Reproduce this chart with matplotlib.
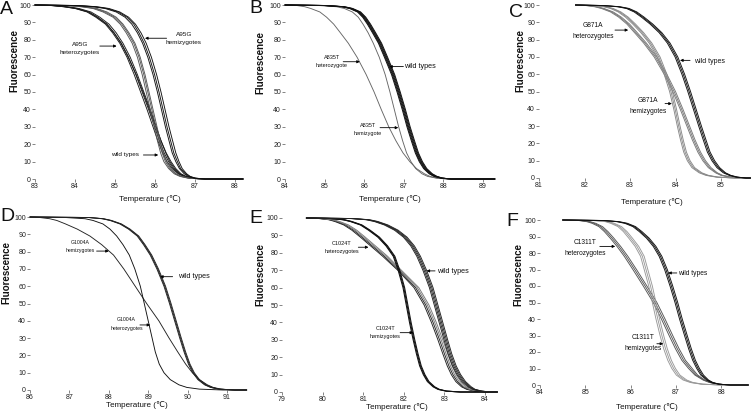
import matplotlib
matplotlib.use("Agg")
import matplotlib.pyplot as plt

plt.rcParams['font.family'] = ['Liberation Sans', 'DejaVu Sans']

W, H = 753, 416
fig = plt.figure(figsize=(W / 100, H / 100), dpi=100)

# Fluorescence levels at which each curve's temperature was read (last two: baseline to end)
F_LEVELS = [100, 99.7, 99, 98, 96, 93, 89, 84, 78, 70, 60, 50, 40, 30, 22, 15, 10, 6, 3, 1.5, 0.5, 0, 0]

# ---------------- Panel A (A95G) ----------------
A_het = [
    [83.0, 83.4, 83.72, 84.0, 84.3, 84.52, 84.76, 84.94, 85.12, 85.3, 85.48, 85.64, 85.8, 85.95, 86.07, 86.19, 86.3, 86.43, 86.58, 86.72, 86.88, 87.2, 88.2],
    [83.0, 83.45, 83.77, 84.05, 84.35, 84.57, 84.8, 84.98, 85.16, 85.34, 85.52, 85.68, 85.84, 85.99, 86.11, 86.23, 86.34, 86.46, 86.6, 86.74, 86.9, 87.2, 88.2],
    [83.0, 83.5, 83.82, 84.1, 84.4, 84.62, 84.85, 85.03, 85.2, 85.38, 85.56, 85.72, 85.88, 86.03, 86.15, 86.27, 86.37, 86.49, 86.62, 86.76, 86.92, 87.2, 88.2],
    [83.0, 83.4, 83.72, 84.02, 84.33, 84.55, 84.79, 84.97, 85.15, 85.33, 85.53, 85.7, 85.86, 86.02, 86.15, 86.28, 86.4, 86.52, 86.65, 86.78, 86.93, 87.2, 88.2],
]
A_wt = [
    [83.0, 83.75, 84.15, 84.45, 84.7, 84.95, 85.13, 85.28, 85.43, 85.56, 85.68, 85.78, 85.88, 85.98, 86.06, 86.14, 86.22, 86.34, 86.48, 86.62, 86.82, 87.15, 88.2],
    [83.0, 83.8, 84.2, 84.5, 84.75, 84.99, 85.17, 85.32, 85.47, 85.6, 85.72, 85.82, 85.92, 86.02, 86.1, 86.18, 86.26, 86.37, 86.51, 86.65, 86.84, 87.15, 88.2],
    [83.0, 83.85, 84.25, 84.55, 84.8, 85.03, 85.2, 85.35, 85.5, 85.63, 85.75, 85.85, 85.95, 86.05, 86.13, 86.21, 86.29, 86.4, 86.53, 86.67, 86.86, 87.15, 88.2],
]
A_hemi = [
    [83.0, 84.0, 84.45, 84.75, 85.03, 85.25, 85.42, 85.56, 85.69, 85.82, 85.95, 86.06, 86.16, 86.26, 86.35, 86.43, 86.52, 86.61, 86.73, 86.83, 86.97, 87.25, 88.2],
    [83.0, 84.05, 84.5, 84.8, 85.08, 85.3, 85.47, 85.6, 85.73, 85.86, 85.99, 86.1, 86.2, 86.3, 86.39, 86.47, 86.56, 86.64, 86.76, 86.86, 86.99, 87.25, 88.2],
    [83.0, 84.1, 84.55, 84.85, 85.12, 85.34, 85.51, 85.65, 85.78, 85.91, 86.04, 86.15, 86.25, 86.35, 86.44, 86.52, 86.6, 86.68, 86.79, 86.88, 87.01, 87.25, 88.2],
]

# ---------------- Panel B (A835T) ----------------
B_wt = [
    [84.0, 85.0, 85.45, 85.65, 85.85, 85.98, 86.1, 86.23, 86.38, 86.53, 86.71, 86.85, 86.98, 87.1, 87.21, 87.31, 87.41, 87.52, 87.66, 87.78, 87.95, 88.2, 89.3],
    [84.0, 85.02, 85.47, 85.67, 85.87, 86.0, 86.12, 86.25, 86.4, 86.55, 86.73, 86.87, 87.0, 87.12, 87.23, 87.33, 87.43, 87.54, 87.68, 87.8, 87.96, 88.2, 89.3],
    [84.0, 85.04, 85.49, 85.69, 85.89, 86.02, 86.14, 86.27, 86.42, 86.57, 86.75, 86.89, 87.02, 87.14, 87.25, 87.35, 87.45, 87.56, 87.7, 87.82, 87.97, 88.2, 89.3],
    [84.0, 84.98, 85.43, 85.63, 85.83, 85.96, 86.08, 86.21, 86.36, 86.51, 86.69, 86.83, 86.96, 87.08, 87.19, 87.29, 87.39, 87.5, 87.64, 87.76, 87.94, 88.2, 89.3],
    [84.0, 85.06, 85.51, 85.71, 85.91, 86.04, 86.16, 86.29, 86.44, 86.59, 86.77, 86.91, 87.04, 87.16, 87.27, 87.37, 87.47, 87.58, 87.72, 87.84, 87.98, 88.2, 89.3],
]
B_hemi = [
    [84.0, 84.85, 85.3, 85.5, 85.7, 85.85, 85.97, 86.1, 86.23, 86.38, 86.53, 86.65, 86.76, 86.87, 86.97, 87.07, 87.18, 87.3, 87.46, 87.6, 87.82, 88.1, 89.3],
]
B_het = [
    [84.0, 84.3, 84.5, 84.65, 84.88, 85.05, 85.23, 85.4, 85.6, 85.82, 86.05, 86.25, 86.43, 86.62, 86.8, 86.98, 87.15, 87.32, 87.52, 87.66, 87.85, 88.1, 89.3],
]

# ---------------- Panel C (G871A) ----------------
C_wt = [
    [81.8, 82.4, 82.75, 82.95, 83.12, 83.28, 83.47, 83.67, 83.85, 84.02, 84.17, 84.3, 84.42, 84.54, 84.64, 84.73, 84.83, 84.94, 85.08, 85.2, 85.35, 85.55, 85.65],
    [81.8, 82.43, 82.78, 82.98, 83.15, 83.31, 83.5, 83.7, 83.88, 84.05, 84.2, 84.33, 84.45, 84.57, 84.67, 84.76, 84.86, 84.97, 85.1, 85.22, 85.37, 85.55, 85.65],
    [81.8, 82.37, 82.72, 82.92, 83.09, 83.25, 83.44, 83.64, 83.82, 83.99, 84.14, 84.27, 84.39, 84.51, 84.61, 84.7, 84.8, 84.91, 85.05, 85.18, 85.33, 85.55, 85.65],
]
C_het = [
    [81.8, 82.05, 82.25, 82.4, 82.6, 82.78, 82.96, 83.13, 83.33, 83.56, 83.78, 83.97, 84.13, 84.28, 84.4, 84.52, 84.63, 84.75, 84.9, 85.02, 85.22, 85.5, 85.65],
    [81.8, 82.08, 82.28, 82.43, 82.63, 82.81, 82.99, 83.16, 83.36, 83.59, 83.81, 84.0, 84.16, 84.31, 84.43, 84.55, 84.66, 84.78, 84.92, 85.04, 85.24, 85.5, 85.65],
    [81.8, 82.02, 82.22, 82.37, 82.57, 82.75, 82.93, 83.1, 83.3, 83.53, 83.75, 83.94, 84.1, 84.25, 84.37, 84.49, 84.6, 84.72, 84.88, 85.0, 85.2, 85.5, 85.65],
]
C_hemi = [
    [81.8, 82.2, 82.45, 82.6, 82.77, 82.93, 83.09, 83.27, 83.45, 83.63, 83.78, 83.9, 83.99, 84.07, 84.14, 84.21, 84.29, 84.39, 84.55, 84.7, 84.92, 85.3, 85.65],
    [81.8, 82.23, 82.48, 82.63, 82.8, 82.96, 83.12, 83.3, 83.48, 83.66, 83.81, 83.93, 84.02, 84.1, 84.17, 84.24, 84.32, 84.42, 84.58, 84.73, 84.94, 85.3, 85.65],
    [81.8, 82.17, 82.42, 82.57, 82.74, 82.9, 83.06, 83.24, 83.42, 83.6, 83.75, 83.87, 83.96, 84.04, 84.11, 84.18, 84.26, 84.36, 84.52, 84.67, 84.9, 85.3, 85.65],
]

# ---------------- Panel D (G1004A) ----------------
D_wt = [
    [86.0, 87.5, 87.85, 88.05, 88.3, 88.52, 88.74, 88.9, 89.07, 89.24, 89.42, 89.56, 89.69, 89.82, 89.93, 90.04, 90.15, 90.28, 90.45, 90.6, 90.8, 91.2, 91.5],
    [86.0, 87.52, 87.87, 88.07, 88.32, 88.54, 88.76, 88.92, 89.09, 89.26, 89.44, 89.58, 89.71, 89.84, 89.95, 90.06, 90.17, 90.3, 90.47, 90.62, 90.81, 91.2, 91.5],
    [86.0, 87.48, 87.83, 88.03, 88.28, 88.5, 88.72, 88.88, 89.05, 89.22, 89.4, 89.54, 89.67, 89.8, 89.91, 90.02, 90.13, 90.26, 90.43, 90.58, 90.79, 91.2, 91.5],
]
D_hemi = [
    [86.0, 86.25, 86.5, 86.68, 86.9, 87.2, 87.52, 87.82, 88.12, 88.38, 88.67, 88.96, 89.27, 89.53, 89.75, 89.95, 90.12, 90.3, 90.5, 90.65, 90.85, 91.2, 91.5],
]
D_het = [
    [86.0, 86.9, 87.4, 87.6, 87.85, 88.03, 88.2, 88.36, 88.52, 88.66, 88.8, 88.9, 89.0, 89.1, 89.18, 89.28, 89.4, 89.56, 89.78, 89.98, 90.3, 90.9, 91.5],
]

# ---------------- Panel E (C1024T) ----------------
E_wt = [
    [79.6, 80.7, 81.1, 81.3, 81.55, 81.8, 82.02, 82.2, 82.35, 82.5, 82.66, 82.78, 82.9, 83.02, 83.12, 83.23, 83.34, 83.46, 83.6, 83.72, 83.9, 84.15, 84.3],
    [79.6, 80.73, 81.13, 81.33, 81.58, 81.83, 82.05, 82.23, 82.38, 82.53, 82.69, 82.81, 82.93, 83.05, 83.15, 83.26, 83.37, 83.49, 83.63, 83.74, 83.92, 84.15, 84.3],
    [79.6, 80.76, 81.16, 81.36, 81.61, 81.86, 82.08, 82.26, 82.41, 82.56, 82.72, 82.84, 82.96, 83.08, 83.18, 83.29, 83.4, 83.52, 83.66, 83.76, 83.93, 84.15, 84.3],
    [79.6, 80.67, 81.07, 81.27, 81.52, 81.77, 81.99, 82.17, 82.32, 82.47, 82.63, 82.75, 82.87, 82.99, 83.09, 83.2, 83.31, 83.43, 83.57, 83.7, 83.88, 84.15, 84.3],
]
E_het = [
    [79.6, 79.9, 80.15, 80.3, 80.52, 80.72, 80.93, 81.18, 81.48, 81.85, 82.25, 82.5, 82.68, 82.84, 82.96, 83.07, 83.17, 83.28, 83.42, 83.55, 83.75, 84.05, 84.3],
    [79.6, 79.93, 80.18, 80.34, 80.56, 80.76, 80.97, 81.22, 81.52, 81.88, 82.29, 82.54, 82.72, 82.88, 83.0, 83.11, 83.21, 83.32, 83.45, 83.58, 83.77, 84.05, 84.3],
    [79.6, 79.96, 80.22, 80.38, 80.6, 80.8, 81.01, 81.26, 81.56, 81.91, 82.33, 82.58, 82.76, 82.92, 83.04, 83.15, 83.25, 83.36, 83.48, 83.61, 83.79, 84.05, 84.3],
    [79.6, 80.0, 80.26, 80.42, 80.64, 80.84, 81.05, 81.3, 81.6, 81.94, 82.37, 82.62, 82.8, 82.96, 83.08, 83.19, 83.29, 83.4, 83.52, 83.64, 83.81, 84.05, 84.3],
]
E_hemi = [
    [79.6, 80.2, 80.52, 80.7, 80.95, 81.15, 81.38, 81.58, 81.76, 81.88, 82.0, 82.08, 82.16, 82.25, 82.33, 82.41, 82.5, 82.6, 82.74, 82.86, 83.05, 83.4, 84.3],
    [79.6, 80.22, 80.54, 80.72, 80.97, 81.17, 81.4, 81.6, 81.78, 81.9, 82.02, 82.1, 82.18, 82.27, 82.35, 82.43, 82.52, 82.62, 82.76, 82.88, 83.06, 83.4, 84.3],
    [79.6, 80.18, 80.5, 80.68, 80.93, 81.13, 81.36, 81.56, 81.74, 81.86, 81.98, 82.06, 82.14, 82.23, 82.31, 82.39, 82.48, 82.58, 82.72, 82.84, 83.04, 83.4, 84.3],
]

# ---------------- Panel F (C1311T) ----------------
F_wt = [
    [84.5, 85.4, 85.72, 85.9, 86.08, 86.22, 86.38, 86.53, 86.66, 86.78, 86.9, 87.01, 87.11, 87.22, 87.31, 87.4, 87.49, 87.58, 87.7, 87.8, 87.95, 88.2, 88.6],
    [84.5, 85.43, 85.75, 85.93, 86.11, 86.25, 86.41, 86.56, 86.69, 86.81, 86.93, 87.04, 87.14, 87.25, 87.34, 87.43, 87.52, 87.61, 87.72, 87.82, 87.96, 88.2, 88.6],
    [84.5, 85.37, 85.69, 85.87, 86.05, 86.19, 86.35, 86.5, 86.63, 86.75, 86.87, 86.98, 87.08, 87.19, 87.28, 87.37, 87.46, 87.55, 87.68, 87.78, 87.94, 88.2, 88.6],
]
F_het = [
    [84.5, 84.85, 85.03, 85.15, 85.3, 85.42, 85.55, 85.7, 85.86, 86.05, 86.28, 86.5, 86.68, 86.85, 86.99, 87.13, 87.28, 87.42, 87.6, 87.74, 87.93, 88.2, 88.6],
    [84.5, 84.88, 85.07, 85.19, 85.34, 85.46, 85.59, 85.74, 85.9, 86.09, 86.32, 86.54, 86.72, 86.89, 87.03, 87.17, 87.32, 87.45, 87.62, 87.76, 87.94, 88.2, 88.6],
    [84.5, 84.91, 85.11, 85.23, 85.38, 85.5, 85.63, 85.78, 85.94, 86.13, 86.36, 86.58, 86.76, 86.93, 87.07, 87.21, 87.36, 87.48, 87.64, 87.78, 87.95, 88.2, 88.6],
]
F_hemi = [
    [84.5, 85.2, 85.48, 85.6, 85.76, 85.88, 86.0, 86.14, 86.26, 86.34, 86.44, 86.52, 86.6, 86.69, 86.77, 86.86, 86.95, 87.05, 87.2, 87.35, 87.58, 88.0, 88.6],
    [84.5, 85.16, 85.44, 85.56, 85.72, 85.84, 85.96, 86.1, 86.22, 86.3, 86.4, 86.48, 86.56, 86.65, 86.73, 86.82, 86.91, 87.01, 87.16, 87.32, 87.56, 88.0, 88.6],
    [84.5, 85.24, 85.52, 85.64, 85.8, 85.92, 86.04, 86.18, 86.3, 86.38, 86.48, 86.56, 86.64, 86.73, 86.81, 86.9, 86.99, 87.09, 87.24, 87.38, 87.6, 88.0, 88.6],
]

Y_TICKS = [0, 10, 20, 30, 40, 50, 60, 70, 80, 90, 100]
XLABEL = "Temperature (\u2103)"
YLABEL = "Fluorescence"


def make_ax(x0_px, t0, scale, xmax, ytop_px, ybot_px, xticks):
    right = x0_px + (xmax - t0) * scale
    ax = fig.add_axes([x0_px / W, 1 - ybot_px / H, (right - x0_px) / W, (ybot_px - ytop_px) / H])
    ax.set_xlim(t0, xmax)
    ax.set_ylim(0, 100)
    for s in ax.spines.values():
        s.set_visible(False)
    ax.set_yticks(Y_TICKS)
    ax.set_yticklabels([str(v) for v in Y_TICKS])
    ax.set_xticks(xticks)
    ax.set_xticklabels([str(v) for v in xticks])
    ax.tick_params(axis='both', labelsize=5, length=2, width=0.5, pad=0.8,
                   color='#555555', labelcolor='#222222')
    ax.patch.set_alpha(0)
    return ax


def draw(ax, curves, color, lw=0.65):
    for c in curves:
        ax.plot(c, F_LEVELS, color=color, lw=lw, clip_on=False,
                solid_joinstyle='round', solid_capstyle='round')


def label(ax, x, y, txt, fs):
    ax.text(x, y, txt, ha='center', va='center', fontsize=fs, linespacing=1.8, color='#111111')


def arrow(ax, tail, tip):
    ax.annotate('', xy=tip, xytext=tail,
                arrowprops=dict(arrowstyle='-|>', lw=0.6, color='k', mutation_scale=4,
                                shrinkA=0, shrinkB=0))


def ftext(px, py, txt, **kw):
    fig.text(px / W, 1 - py / H, txt, **kw)


# Panel A
axA = make_ax(35, 83, 40, 88.2, 5, 179, [83, 84, 85, 86, 87, 88])
draw(axA, A_het, '#1a1a1a')
draw(axA, A_wt, '#555555')
draw(axA, A_hemi, '#111111')
label(axA, 86.72, 80.7, "A95G\nhemizygotes", 4.6)
arrow(axA, (86.29, 80.9), (85.75, 80.9))
label(axA, 84.12, 74.8, "A95G\nheterozygotes", 4.6)
arrow(axA, (84.62, 76.4), (85.04, 76.4))
label(axA, 85.25, 13.8, "wild types", 4.6)
arrow(axA, (85.71, 13.8), (86.08, 13.8))

# Panel B
axB = make_ax(285, 84, 39.6, 89.3, 5, 179, [84, 85, 86, 87, 88, 89])
draw(axB, B_het, '#666666')
draw(axB, B_hemi, '#666666')
draw(axB, B_wt, '#111111', 0.7)
label(axB, 85.18, 67.4, "A835T\nheterozygote", 4.0)
arrow(axB, (85.47, 67.4), (85.89, 67.4))
label(axB, 87.41, 64.6, "wild types", 5.2)
arrow(axB, (86.99, 64.6), (86.63, 64.6))
label(axB, 86.1, 28.6, "A835T\nhemizygote", 4.0)
arrow(axB, (86.4, 29.5), (86.86, 29.5))

# Panel C
axC = make_ax(539, 81, 45.5, 85.65, 5, 178, [81, 82, 83, 84, 85])
draw(axC, C_het, '#777777')
draw(axC, C_hemi, '#888888')
draw(axC, C_wt, '#111111')
label(axC, 82.19, 84.8, "G871A\nheterozygotes", 4.8)
arrow(axC, (82.67, 85.5), (82.96, 85.5))
label(axC, 84.75, 67.6, "wild types", 5.0)
arrow(axC, (84.32, 68.0), (84.1, 68.0))
label(axC, 83.4, 41.4, "G871A\nhemizygotes", 4.8)
arrow(axC, (83.77, 43.0), (83.92, 43.0))

# Panel D
axD = make_ax(30, 86, 39.4, 91.5, 217, 390, [86, 87, 88, 89, 90, 91])
draw(axD, D_hemi, '#222222')
draw(axD, D_het, '#111111')
draw(axD, D_wt, '#222222')
label(axD, 87.27, 82.9, "G1004A\nhemizygotes", 3.7)
arrow(axD, (87.69, 80.3), (88.0, 80.3))
label(axD, 90.15, 65.5, "wild types", 5.2)
arrow(axD, (89.62, 65.5), (89.3, 65.5))
label(axD, 88.45, 38.2, "G1004A\nheterozygotes", 3.7)
arrow(axD, (88.79, 37.6), (89.05, 37.6))

# Panel E
axE = make_ax(282, 79, 40.6, 84.3, 218, 392, [79, 80, 81, 82, 83, 84])
draw(axE, E_het[:2], '#222222')
draw(axE, E_het[2:], '#777777')
draw(axE, E_hemi, '#111111', 0.75)
draw(axE, E_wt, '#222222')
label(axE, 80.47, 82.9, "C1024T\nheterozygotes", 4.0)
arrow(axE, (80.88, 83.2), (81.13, 83.2))
label(axE, 83.21, 69.5, "wild types", 5.2)
arrow(axE, (82.77, 69.6), (82.56, 69.6))
label(axE, 81.54, 34.2, "C1024T\nhemizygotes", 4.0)
arrow(axE, (81.91, 34.1), (82.23, 34.1))

# Panel F
axF = make_ax(540, 84, 45.3, 88.6, 220, 385, [84, 85, 86, 87, 88])
draw(axF, F_het, '#555555')
draw(axF, F_hemi, '#999999')
draw(axF, F_wt, '#111111')
label(axF, 84.99, 83.0, "C1311T\nheterozygotes", 4.8)
arrow(axF, (85.32, 84.0), (85.66, 84.0))
label(axF, 87.38, 67.5, "wild types", 4.8)
arrow(axF, (87.02, 67.9), (86.83, 67.9))
label(axF, 86.28, 25.3, "C1311T\nhemizygotes", 4.8)
arrow(axF, (86.58, 25.0), (86.72, 25.0))

# Axis labels
for (px, py) in [(14, 60), (260, 63), (520, 60), (6, 273), (260, 275), (518, 275)]:
    ftext(px, py, YLABEL, rotation=90, ha='center', va='center', fontsize=7,
          fontweight='bold', color='#111111')
for (px, py) in [(150, 199), (390, 199), (652, 202), (137, 405), (397, 407), (647, 407)]:
    ftext(px, py, XLABEL, ha='center', va='center', fontsize=5.8, color='#111111')

# Panel letters
for (px, py, s) in [(0, 1, "A"), (249, 0, "B"), (509, 4, "C"), (0, 208, "D"),
                    (249, 210, "E"), (506, 213, "F")]:
    ftext(px, py, s, ha='left', va='top', fontsize=14, color='#111111')

fig.savefig("out.png", dpi=100)
